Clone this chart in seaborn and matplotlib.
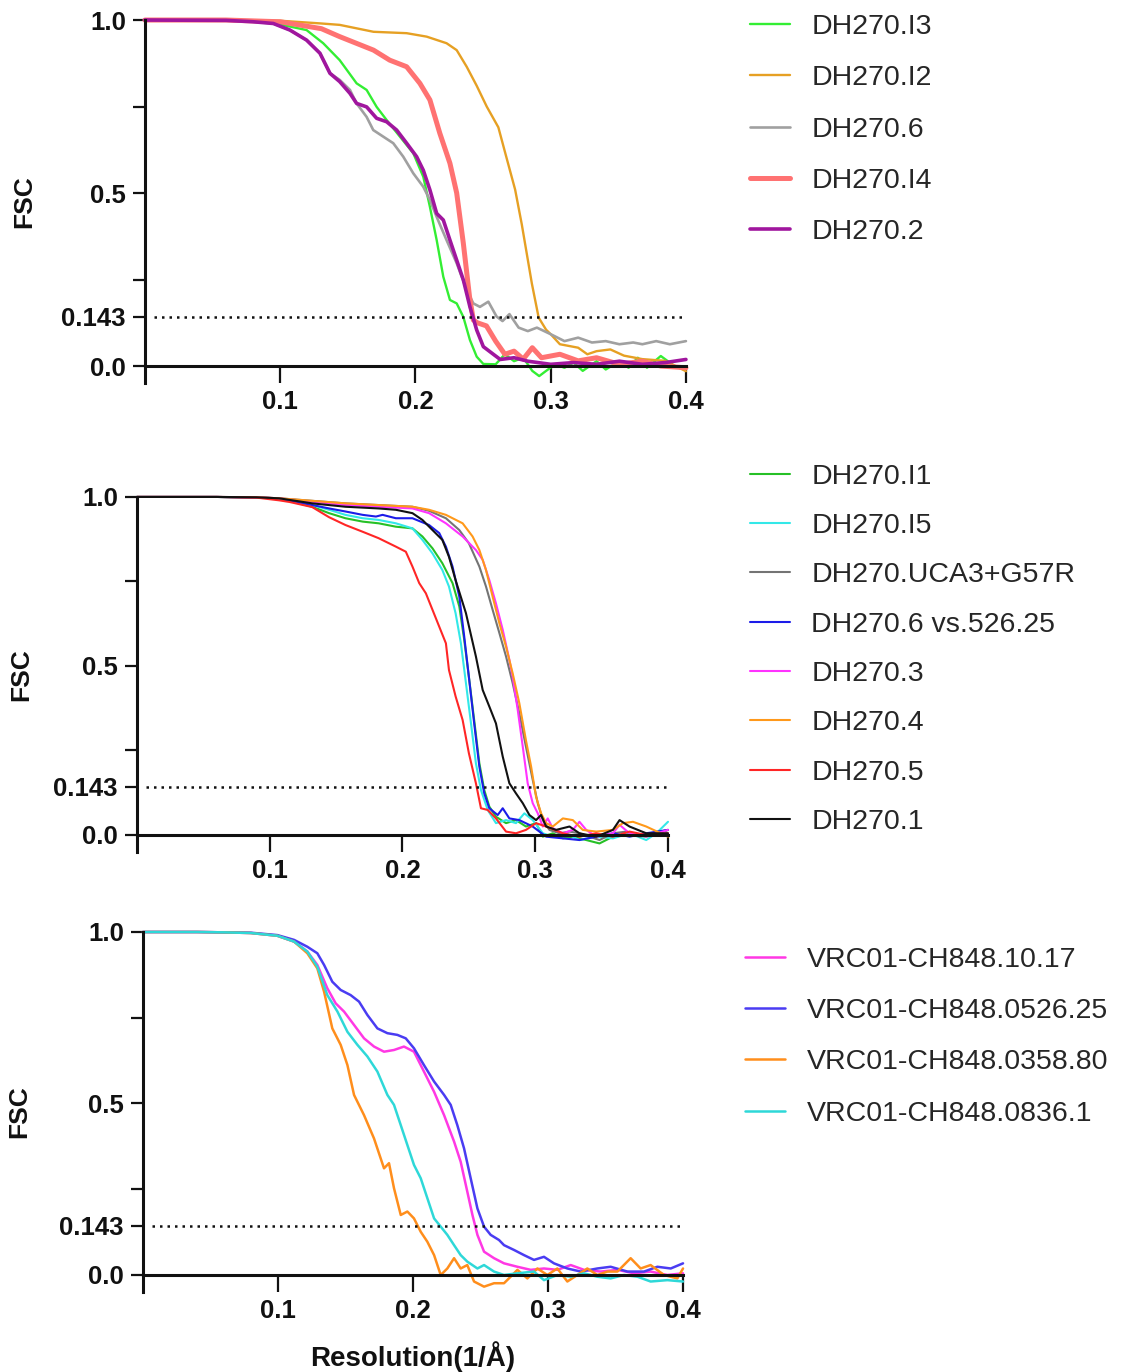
import pandas as pd
import seaborn as sns
import matplotlib.pyplot as plt

# ---------------- top panel: DH270 intermediates ----------------
i3_res = [0, 0.06, 0.08, 0.0966, 0.1195, 0.1318, 0.144, 0.1565, 0.1639, 0.1713, 0.1787, 0.1885,
          0.1984, 0.2058, 0.2107, 0.2157, 0.2206, 0.2255, 0.2305, 0.2354, 0.2403, 0.2453, 0.2502,
          0.2593, 0.2661, 0.2729, 0.2797, 0.2864, 0.2915, 0.2966, 0.3034, 0.3102, 0.3169, 0.3237,
          0.3339, 0.3407, 0.3508, 0.3576, 0.3644, 0.3712, 0.3814, 0.3915, 0.4]
i3_fsc = [1.0, 1.0, 0.997, 0.99, 0.971, 0.933, 0.884, 0.817, 0.798, 0.749, 0.711, 0.663,
          0.615, 0.547, 0.46, 0.364, 0.258, 0.191, 0.181, 0.142, 0.075, 0.027, 0.006,
          0.005, 0.034, 0.014, 0.024, -0.014, -0.029, -0.014, 0.005, -0.005, 0.01, -0.014,
          0.014, -0.01, 0.014, -0.005, 0.024, -0.005, 0.029, 0.0, -0.005]

i2_res = [0, 0.06, 0.1, 0.1305, 0.144, 0.169, 0.1935, 0.2083, 0.223, 0.2305, 0.2379, 0.2453,
          0.2527, 0.2613, 0.2661, 0.2737, 0.2786, 0.2861, 0.2911, 0.2966, 0.3, 0.3068, 0.3203,
          0.3271, 0.3339, 0.3441, 0.3542, 0.3678, 0.3847, 0.4]
i2_fsc = [1.0, 1.0, 0.998, 0.99, 0.986, 0.966, 0.962, 0.952, 0.933, 0.913, 0.865, 0.81,
          0.75, 0.69, 0.62, 0.51, 0.41, 0.238, 0.14, 0.105, 0.092, 0.063, 0.053,
          0.034, 0.043, 0.048, 0.03, 0.02, 0.015, -0.015]

dh6_res = [0, 0.06, 0.08, 0.0949, 0.1072, 0.1195, 0.1294, 0.1368, 0.144, 0.1516, 0.1565, 0.1639,
           0.1688, 0.1762, 0.1836, 0.191, 0.1984, 0.2058, 0.2107, 0.2157, 0.223, 0.2305, 0.2379,
           0.2428, 0.2477, 0.2539, 0.26, 0.2644, 0.2695, 0.2763, 0.2831, 0.2898, 0.3, 0.3102,
           0.3203, 0.3305, 0.3407, 0.3508, 0.361, 0.3678, 0.378, 0.3881, 0.4]
dh6_fsc = [1.0, 0.999, 0.995, 0.99, 0.971, 0.942, 0.904, 0.846, 0.827, 0.798, 0.759, 0.72,
           0.682, 0.663, 0.644, 0.605, 0.557, 0.518, 0.48, 0.431, 0.364, 0.297, 0.22,
           0.181, 0.171, 0.186, 0.143, 0.13, 0.15, 0.111, 0.101, 0.111, 0.092, 0.072,
           0.082, 0.068, 0.072, 0.063, 0.068, 0.063, 0.072, 0.063, 0.072]

i4_res = [0, 0.06, 0.1, 0.1305, 0.144, 0.169, 0.181, 0.1935, 0.2033, 0.2107, 0.218, 0.2255,
          0.2305, 0.2354, 0.2400, 0.2428, 0.2458, 0.2525, 0.2593, 0.2661, 0.2729, 0.2797, 0.2864,
          0.2932, 0.3068, 0.3203, 0.3339, 0.3508, 0.3678, 0.3814, 0.4]
i4_fsc = [1.0, 1.0, 0.995, 0.975, 0.952, 0.913, 0.884, 0.865, 0.817, 0.769, 0.673, 0.586,
          0.50, 0.355, 0.20, 0.133, 0.125, 0.116, 0.072, 0.034, 0.043, 0.02, 0.053,
          0.024, 0.034, 0.015, 0.024, 0.005, 0.014, 0.0, -0.005]

dh2_res = [0, 0.06, 0.08, 0.0949, 0.1072, 0.1195, 0.1294, 0.1368, 0.144, 0.1516, 0.1565, 0.1639,
           0.1713, 0.1787, 0.1861, 0.1935, 0.2009, 0.2058, 0.2107, 0.2157, 0.2206, 0.2255, 0.2305,
           0.2354, 0.2403, 0.2453, 0.2502, 0.2576, 0.2627, 0.2729, 0.2831, 0.3, 0.3169, 0.3339,
           0.3508, 0.3678, 0.3847, 0.4]
dh2_fsc = [1.0, 0.999, 0.995, 0.99, 0.971, 0.942, 0.904, 0.846, 0.822, 0.788, 0.759, 0.749,
           0.716, 0.706, 0.682, 0.644, 0.605, 0.566, 0.509, 0.441, 0.422, 0.364, 0.306,
           0.249, 0.171, 0.104, 0.056, 0.034, 0.019, 0.024, 0.014, 0.005, 0.01, 0.005,
           0.014, 0.005, 0.01, 0.019]

# ---------------- middle panel ----------------
i1_res = [0, 0.06, 0.09, 0.107, 0.132, 0.1447, 0.157, 0.17, 0.182, 0.195, 0.2075, 0.215, 0.2226,
          0.23, 0.2377, 0.2428, 0.2465, 0.25, 0.254, 0.2579, 0.2616, 0.2654, 0.2704, 0.278,
          0.2855, 0.293, 0.3006, 0.3057, 0.3132, 0.3208, 0.3283, 0.3384, 0.3484, 0.3585, 0.371,
          0.3836, 0.4]
i1_fsc = [1.0, 1.0, 0.998, 0.996, 0.971, 0.952, 0.937, 0.927, 0.922, 0.912, 0.907, 0.883, 0.848,
          0.804, 0.745, 0.676, 0.577, 0.468, 0.34, 0.212, 0.133, 0.084, 0.054, 0.035,
          0.044, 0.025, 0.035, -0.005, 0.005, -0.01, -0.005, -0.015, -0.025, -0.005, 0.0,
          -0.005, 0.015]

i5_res = [0, 0.06, 0.09, 0.107, 0.132, 0.1447, 0.157, 0.17, 0.182, 0.195, 0.2075, 0.215, 0.2226,
          0.23, 0.235, 0.24, 0.244, 0.2478, 0.2516, 0.2553, 0.2591, 0.2642, 0.2704, 0.278,
          0.2855, 0.2918, 0.2981, 0.3057, 0.3132, 0.3233, 0.3333, 0.3459, 0.3585, 0.371, 0.3836,
          0.3912, 0.4]
i5_fsc = [1.0, 1.0, 0.998, 0.996, 0.976, 0.962, 0.947, 0.937, 0.932, 0.922, 0.907, 0.873, 0.833,
          0.784, 0.735, 0.656, 0.567, 0.449, 0.33, 0.212, 0.133, 0.074, 0.035, 0.044,
          0.035, 0.064, 0.044, 0.005, -0.005, 0.005, -0.015, -0.005, -0.01, 0.005, -0.015,
          0.005, 0.039]

uca3_res = [0, 0.06, 0.09, 0.107, 0.157, 0.182, 0.2075, 0.22, 0.2327, 0.2428, 0.25, 0.2579,
            0.2629, 0.2679, 0.273, 0.278, 0.283, 0.288, 0.293, 0.2981, 0.3019, 0.3057, 0.3107,
            0.3182, 0.3258, 0.3333, 0.3409, 0.3484, 0.3585, 0.3686, 0.3786, 0.3887, 0.4]
uca3_fsc = [1.0, 1.0, 0.999, 0.996, 0.981, 0.976, 0.971, 0.959, 0.937, 0.902, 0.863, 0.794,
            0.735, 0.666, 0.597, 0.528, 0.449, 0.36, 0.261, 0.163, 0.094, 0.044, 0.015,
            0.005, 0.01, 0.005, -0.005, -0.015, 0.005, 0.01, -0.005, 0.005, 0.015]

v526_res = [0, 0.06, 0.09, 0.107, 0.132, 0.1447, 0.157, 0.17, 0.18, 0.185, 0.195, 0.2075, 0.22,
            0.2277, 0.2327, 0.2377, 0.2428, 0.2465, 0.25, 0.254, 0.2579, 0.2616, 0.2654, 0.2717,
            0.2755, 0.2805, 0.288, 0.2981, 0.3082, 0.3208, 0.3333, 0.3459, 0.3585, 0.371, 0.3836,
            0.4]
v526_fsc = [1.0, 1.0, 0.998, 0.996, 0.976, 0.966, 0.957, 0.947, 0.942, 0.947, 0.937, 0.937, 0.917,
            0.893, 0.853, 0.794, 0.705, 0.587, 0.468, 0.33, 0.202, 0.123, 0.079, 0.059,
            0.079, 0.049, 0.044, 0.025, -0.005, -0.01, -0.015, -0.005, 0.005, -0.005, 0.005,
            0.015]

dh3_res = [0, 0.06, 0.09, 0.107, 0.132, 0.157, 0.182, 0.2075, 0.22, 0.2327, 0.2453, 0.2553, 0.2604,
           0.2654, 0.2704, 0.2755, 0.2805, 0.283, 0.2868, 0.2906, 0.2943, 0.2981, 0.3019, 0.3057,
           0.3094, 0.3132, 0.3208, 0.3283, 0.3333, 0.3384, 0.3459, 0.3585, 0.3635, 0.371, 0.3836,
           0.4]
dh3_fsc = [1.0, 1.0, 0.999, 0.996, 0.986, 0.976, 0.971, 0.966, 0.952, 0.922, 0.883, 0.843, 0.814,
           0.754, 0.685, 0.607, 0.518, 0.468, 0.37, 0.261, 0.153, 0.094, 0.064, 0.025,
           0.049, 0.02, 0.005, 0.015, 0.039, 0.015, -0.005, 0.005, 0.03, 0.005, -0.005,
           0.015]

dh4_res = [0, 0.06, 0.09, 0.107, 0.157, 0.182, 0.2075, 0.22, 0.2327, 0.2453, 0.2528, 0.2579,
           0.2629, 0.2679, 0.273, 0.278, 0.283, 0.288, 0.293, 0.2969, 0.3006, 0.3044, 0.3082,
           0.3132, 0.3208, 0.3283, 0.3358, 0.3459, 0.3585, 0.366, 0.3736, 0.3836, 0.4]
dh4_fsc = [1.0, 1.0, 0.999, 0.996, 0.981, 0.976, 0.971, 0.962, 0.947, 0.922, 0.883, 0.843,
           0.784, 0.705, 0.626, 0.557, 0.478, 0.39, 0.28, 0.202, 0.113, 0.064, 0.035,
           0.025, 0.049, 0.044, 0.015, 0.01, 0.015, 0.035, 0.039, 0.025, -0.005]

dh5_res = [0, 0.06, 0.09, 0.107, 0.115, 0.132, 0.1447, 0.157, 0.17, 0.182, 0.195, 0.2025, 0.2075,
           0.2126, 0.2176, 0.2226, 0.2277, 0.2327, 0.235, 0.24, 0.2453, 0.25, 0.2553, 0.2591,
           0.2642, 0.2704, 0.278, 0.2855, 0.293, 0.3006, 0.3082, 0.3208, 0.3333, 0.3459, 0.3585,
           0.371, 0.3836, 0.4]
dh5_fsc = [1.0, 1.0, 0.998, 0.99, 0.985, 0.97, 0.94, 0.917, 0.897, 0.878, 0.853, 0.838, 0.794,
           0.745, 0.715, 0.666, 0.616, 0.567, 0.488, 0.41, 0.34, 0.242, 0.153, 0.079,
           0.074, 0.049, 0.01, 0.005, 0.015, 0.035, 0.025, 0.005, -0.005, 0.005, -0.005,
           0.01, 0.0, 0.005]

dh1_res = [0, 0.06, 0.09, 0.107, 0.132, 0.157, 0.182, 0.195, 0.2075, 0.215, 0.2226, 0.23, 0.235,
           0.24, 0.2478, 0.2553, 0.2604, 0.2654, 0.2704, 0.2755, 0.2805, 0.2855, 0.2906, 0.2956,
           0.3006, 0.3044, 0.3082, 0.3157, 0.3258, 0.3333, 0.3459, 0.3585, 0.3635, 0.371, 0.3836,
           0.4]
dh1_fsc = [1.0, 1.0, 0.999, 0.996, 0.981, 0.971, 0.966, 0.962, 0.952, 0.932, 0.902, 0.873, 0.823,
           0.754, 0.656, 0.528, 0.429, 0.38, 0.33, 0.232, 0.153, 0.123, 0.094, 0.059,
           0.044, 0.059, 0.025, 0.015, 0.025, 0.005, -0.005, 0.015, 0.044, 0.025, 0.005,
           0.005]

# ---------------- bottom panel: VRC01-CH848 ----------------
c1017_res = [0, 0.04, 0.06, 0.0798, 0.0995, 0.1119, 0.1217, 0.1291, 0.1365, 0.1427, 0.1489, 0.1563,
             0.1637, 0.1711, 0.1785, 0.1859, 0.1933, 0.2007, 0.2081, 0.2156, 0.223, 0.2304,
             0.2353, 0.2402, 0.244, 0.2477, 0.2526, 0.26, 0.2674, 0.2773, 0.2872, 0.297, 0.3069,
             0.3168, 0.3267, 0.339, 0.3514, 0.3637, 0.376, 0.3884, 0.4]
c1017_fsc = [1.0, 1.0, 0.999, 0.997, 0.989, 0.972, 0.943, 0.904, 0.836, 0.792, 0.768, 0.729,
             0.69, 0.666, 0.651, 0.656, 0.666, 0.651, 0.593, 0.534, 0.466, 0.389,
             0.33, 0.243, 0.175, 0.117, 0.068, 0.049, 0.034, 0.024, 0.015, 0.019, 0.015,
             0.029, 0.015, 0.01, 0.015, 0.005, 0.01, 0.0, 0.005]

c0526_res = [0, 0.04, 0.06, 0.0798, 0.0995, 0.1119, 0.1217, 0.1291, 0.1341, 0.1402, 0.1464, 0.1538,
             0.16, 0.1662, 0.1736, 0.181, 0.1884, 0.1946, 0.2007, 0.2081, 0.2156, 0.223, 0.2279,
             0.2328, 0.2378, 0.2427, 0.2477, 0.2526, 0.2575, 0.2637, 0.2674, 0.2748, 0.2822,
             0.2896, 0.297, 0.3044, 0.3143, 0.3242, 0.3365, 0.3464, 0.3588, 0.3711, 0.381, 0.3909,
             0.4]
c0526_fsc = [1.0, 1.0, 0.999, 0.998, 0.991, 0.977, 0.957, 0.938, 0.904, 0.855, 0.831, 0.816,
             0.797, 0.758, 0.719, 0.705, 0.70, 0.69, 0.661, 0.612, 0.564, 0.525, 0.496,
             0.437, 0.369, 0.282, 0.194, 0.141, 0.117, 0.102, 0.087, 0.073, 0.058,
             0.044, 0.053, 0.034, 0.019, 0.01, 0.019, 0.024, 0.01, 0.01, 0.024, 0.019,
             0.034]

c0358_res = [0, 0.04, 0.06, 0.0798, 0.0995, 0.1119, 0.1217, 0.1291, 0.1341, 0.1402, 0.1464, 0.1514,
             0.1563, 0.1637, 0.1711, 0.1785, 0.1822, 0.1859, 0.1909, 0.1958, 0.2007, 0.2057,
             0.2106, 0.2156, 0.2205, 0.2254, 0.2304, 0.2353, 0.2402, 0.2452, 0.2526, 0.26, 0.2674,
             0.2723, 0.2773, 0.2847, 0.2921, 0.2995, 0.3069, 0.3143, 0.3217, 0.3291, 0.3365,
             0.344, 0.3514, 0.3612, 0.3686, 0.376, 0.3859, 0.3958, 0.4]
c0358_fsc = [1.0, 1.0, 0.999, 0.997, 0.989, 0.972, 0.938, 0.894, 0.826, 0.719, 0.671, 0.612,
             0.525, 0.466, 0.398, 0.311, 0.326, 0.253, 0.175, 0.185, 0.165, 0.126,
             0.097, 0.058, 0.0, 0.019, 0.049, 0.019, 0.029, -0.019, -0.034, -0.024, -0.024,
             -0.005, 0.015, -0.01, 0.019, 0.0, 0.019, -0.019, 0.0, 0.019, 0.0,
             0.01, 0.01, 0.049, 0.019, 0.029, 0.0, -0.01, 0.019]

c0836_res = [0, 0.04, 0.06, 0.0798, 0.0995, 0.1119, 0.1217, 0.1291, 0.1365, 0.144, 0.1514, 0.1588,
             0.1662, 0.1736, 0.181, 0.1859, 0.1909, 0.1958, 0.2007, 0.2057, 0.2106, 0.2156,
             0.2205, 0.2254, 0.2304, 0.2353, 0.2402, 0.2477, 0.2526, 0.26, 0.2674, 0.2773, 0.2896,
             0.297, 0.3069, 0.3168, 0.3267, 0.3365, 0.3464, 0.3563, 0.3662, 0.376, 0.3884, 0.4]
c0836_fsc = [1.0, 1.0, 0.999, 0.997, 0.989, 0.972, 0.943, 0.899, 0.816, 0.768, 0.709, 0.671,
             0.637, 0.593, 0.525, 0.496, 0.437, 0.379, 0.321, 0.282, 0.224, 0.165,
             0.141, 0.117, 0.087, 0.058, 0.039, 0.019, 0.029, 0.01, 0.0, 0.005, 0.01,
             -0.015, 0.0, -0.005, 0.005, -0.005, -0.01, 0.0, -0.005, -0.019, -0.015, -0.019]

# label, res, fsc, colour, linewidth  (listed in legend order)
top_curves = [
    ('DH270.I3', i3_res, i3_fsc, '#33EE33', 1.7),
    ('DH270.I2', i2_res, i2_fsc, '#E6A023', 1.7),
    ('DH270.6', dh6_res, dh6_fsc, '#A0A0A0', 1.9),
    ('DH270.I4', i4_res, i4_fsc, '#FF7272', 3.6),
    ('DH270.2', dh2_res, dh2_fsc, '#A0169E', 2.6),
]
mid_curves = [
    ('DH270.I1', i1_res, i1_fsc, '#26C026', 1.5),
    ('DH270.I5', i5_res, i5_fsc, '#33E8E8', 1.5),
    ('DH270.UCA3+G57R', uca3_res, uca3_fsc, '#747474', 1.5),
    ('DH270.6 vs.526.25', v526_res, v526_fsc, '#1C1CE8', 1.5),
    ('DH270.3', dh3_res, dh3_fsc, '#FF33FF', 1.5),
    ('DH270.4', dh4_res, dh4_fsc, '#FF991A', 1.5),
    ('DH270.5', dh5_res, dh5_fsc, '#FF2626', 1.5),
    ('DH270.1', dh1_res, dh1_fsc, '#111111', 1.5),
]
bot_curves = [
    ('VRC01-CH848.10.17', c1017_res, c1017_fsc, '#FF38E4', 1.8),
    ('VRC01-CH848.0526.25', c0526_res, c0526_fsc, '#4A3CF2', 1.8),
    ('VRC01-CH848.0358.80', c0358_res, c0358_fsc, '#FF8E1C', 1.8),
    ('VRC01-CH848.0836.1', c0836_res, c0836_fsc, '#2ED8D8', 1.8),
]

sns.set_style('ticks')
plt.rcParams['font.family'] = ['Liberation Sans', 'DejaVu Sans']

fig = plt.figure(figsize=(11.21, 13.72), dpi=100)

# axes rectangle (figure fraction), legend anchor, legend row spacing, ylabel x
panels = [
    (top_curves, [0.1293, 0.7206, 0.4826, 0.2648], (0.669, 0.9898), 0.89, -0.20),
    (mid_curves, [0.1222, 0.3791, 0.4737, 0.2587], (0.669, 0.6621), 0.82, -0.196),
    (bot_curves, [0.1276, 0.0582, 0.4817, 0.2625], (0.665, 0.3101), 0.89, -0.207),
]

for curves, rect, anchor, spacing, ylab_x in panels:
    ax = fig.add_axes(rect)
    for name, res, fsc, col, lw in curves:
        d = pd.DataFrame({'res': res, 'fsc': fsc})
        sns.lineplot(data=d, x='res', y='fsc', color=col, lw=lw, label=name,
                     estimator=None, sort=False, clip_on=False, ax=ax)
    ax.hlines(0.143, 0.007, 0.4, colors='#111111', lw=1.8, linestyles=(0, (1, 2)))

    ax.set_xlim(0, 0.4)
    ax.set_ylim(-0.05, 1.0)
    sns.despine(ax=ax)
    ax.spines['bottom'].set_position(('data', 0))
    for s in ['left', 'bottom']:
        ax.spines[s].set_linewidth(2.2)
        ax.spines[s].set_color('#111111')

    ax.set_xticks([0.1, 0.2, 0.3, 0.4])
    ax.set_xticklabels(['0.1', '0.2', '0.3', '0.4'])
    ax.set_yticks([0, 0.143, 0.5, 1.0])
    ax.set_yticklabels(['0.0', '0.143', '0.5', '1.0'])
    ax.set_yticks([0.25, 0.75], minor=True)
    ax.tick_params(axis='y', which='both', length=8.3, width=1.6, pad=5.5, color='#111111')
    ax.tick_params(axis='x', length=12, width=1.6, pad=5.5, color='#111111')
    for t in ax.get_xticklabels() + ax.get_yticklabels():
        t.set_fontsize(18.5)
        t.set_fontweight('bold')
        t.set_color('#111111')

    ax.set_ylabel('FSC', fontsize=19, fontweight='bold', color='#111111')
    ax.yaxis.set_label_coords(ylab_x, 0.5)
    ax.set_xlabel('')

    handles, labels = ax.get_legend_handles_labels()
    ax.get_legend().remove()
    fig.legend(handles, labels, loc='upper left', bbox_to_anchor=anchor,
               bbox_transform=fig.transFigure, frameon=False, fontsize=20.5,
               handlelength=1.4, handletextpad=0.75, labelspacing=spacing,
               borderpad=0, borderaxespad=0)
    last_ax = ax

last_ax.set_xlabel('Resolution(1/Å)', fontsize=20, fontweight='bold', color='#111111')
last_ax.xaxis.set_label_coords(0.5, -0.135)

fig.savefig('out.png', dpi=100)
